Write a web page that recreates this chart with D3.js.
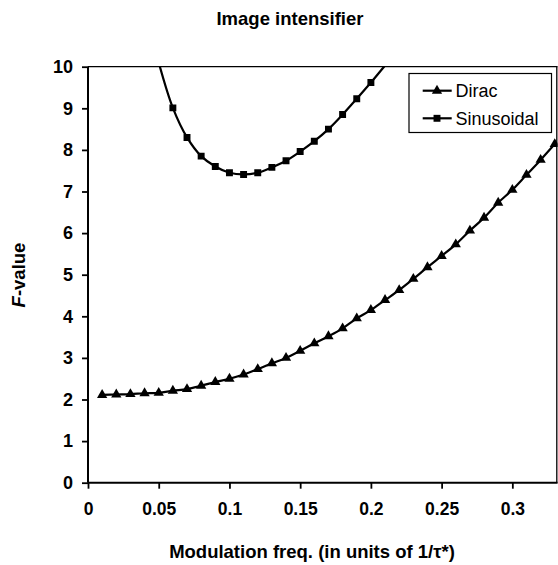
<!DOCTYPE html>
<html><head><meta charset="utf-8">
<script src="https://cdn.jsdelivr.net/npm/d3@7"></script>
<style>body{margin:0;background:#fff}svg{display:block}text{font-family:"Liberation Sans",Arial,sans-serif}</style>
</head><body><svg id="c" width="558" height="565"></svg>
<script>
const diracX = [0.01,0.02,0.03,0.04,0.05,0.06,0.07,0.08,0.09,0.10,0.11,0.12,0.13,0.14,0.15,0.16,0.17,0.18,0.19,0.20,0.21,0.22,0.23,0.24,0.25,0.26,0.27,0.28,0.29,0.30,0.31,0.32,0.33];
const diracY = [2.11,2.12,2.13,2.15,2.16,2.21,2.25,2.33,2.42,2.50,2.60,2.73,2.87,3.00,3.17,3.35,3.52,3.71,3.95,4.15,4.39,4.63,4.90,5.18,5.45,5.73,6.06,6.37,6.73,7.04,7.40,7.76,8.14];
const sinX = [0.05,0.06,0.07,0.08,0.09,0.10,0.11,0.12,0.13,0.14,0.15,0.16,0.17,0.18,0.19,0.20,0.21];
const sinY = [10.1,9.01,8.30,7.85,7.60,7.45,7.41,7.45,7.58,7.74,7.96,8.21,8.50,8.85,9.23,9.62,10.03];
const xTicks = [0,0.05,0.1,0.15,0.2,0.25,0.3];
const yTicks = [0,1,2,3,4,5,6,7,8,9,10];
const seriesNames = ["Dirac","Sinusoidal"];
const titleText = "Image intensifier";
const xLabel = "Modulation freq. (in units of 1/\u03C4*)";
const yLabelItalic = "F";
const yLabelRest = "-value";

const svg = d3.select("#c");
const x = d3.scaleLinear().domain([0,0.332]).range([88,557.6]);
const y = d3.scaleLinear().domain([0,10]).range([482.7,66.7]);

svg.append("clipPath").attr("id","clip").append("rect")
  .attr("x",x(0)).attr("y",y(10)).attr("width",x(0.332)-x(0)).attr("height",y(0)-y(10));

svg.append("line").attr("x1",x(0)).attr("x2",x(0.332)).attr("y1",y(10)).attr("y2",y(10)).attr("stroke","#000").attr("stroke-width",1.3);
svg.append("line").attr("x1",x(0.332)-0.8).attr("x2",x(0.332)-0.8).attr("y1",y(10)).attr("y2",y(0)).attr("stroke","#000").attr("stroke-width",1.3);

const xAxis = d3.axisBottom(x).tickValues(xTicks).tickSize(6).tickPadding(14).tickFormat(d=>d===0?"0":String(d));
const gx = svg.append("g").attr("transform",`translate(0,${y(0)})`).call(xAxis);
gx.select(".domain").attr("d",`M${x(0)},0H${x(0.332)}`).attr("stroke-width",2);
gx.selectAll(".tick line").attr("stroke-width",1.8);
gx.selectAll("text").attr("font-size",17.5).attr("font-weight","bold").attr("fill","#000").attr("font-family","Liberation Sans, Arial, sans-serif");

const yAxis = d3.axisLeft(y).tickValues(yTicks).tickSize(6).tickPadding(9);
const gy = svg.append("g").attr("transform",`translate(${x(0)},0)`).call(yAxis);
gy.select(".domain").attr("d",`M0,${y(0)}V${y(10)}`).attr("stroke-width",2);
gy.selectAll(".tick line").attr("stroke-width",1.8);
gy.selectAll("text").attr("font-size",18).attr("font-weight","bold").attr("fill","#000").attr("font-family","Liberation Sans, Arial, sans-serif");

const dirac = diracX.map((d,i)=>({x:d,y:diracY[i]}));
const sinus = sinX.map((d,i)=>({x:d,y:sinY[i]}));
const line = d3.line().x(d=>x(d.x)).y(d=>y(d.y)).curve(d3.curveCatmullRom.alpha(0.5));
const plot = svg.append("g").attr("clip-path","url(#clip)");
plot.append("path").attr("d",line(dirac)).attr("fill","none").attr("stroke","#000").attr("stroke-width",2.2);
plot.append("path").attr("d",line(sinus)).attr("fill","none").attr("stroke","#000").attr("stroke-width",2.2);

const tri = d3.symbol().type(d3.symbolTriangle).size(46);
const sq = d3.symbol().type(d3.symbolSquare).size(48);
plot.selectAll(".tri").data(dirac).join("path").attr("d",tri)
  .attr("transform",d=>`translate(${x(d.x)},${y(d.y)})`).attr("fill","#000");
plot.selectAll(".sq").data(sinus.filter(d=>d.y<=10)).join("path").attr("d",sq)
  .attr("transform",d=>`translate(${x(d.x)},${y(d.y)})`).attr("fill","#000");

const lg = svg.append("g");
lg.append("rect").attr("x",409).attr("y",73.5).attr("width",142.5).attr("height",59).attr("fill","#fff").attr("stroke","#000").attr("stroke-width",1.2);
const legY = [90.7,118.3];
const legSym = [tri, sq];
seriesNames.forEach((n,i)=>{
  lg.append("line").attr("x1",422.7).attr("x2",451.7).attr("y1",legY[i]).attr("y2",legY[i]).attr("stroke","#000").attr("stroke-width",2.2);
  lg.append("path").attr("d",legSym[i]).attr("transform",`translate(437,${legY[i]})`).attr("fill","#000");
  lg.append("text").attr("x",455.5).attr("y",legY[i]).attr("dy","0.36em").attr("font-size",18).text(n);
});

svg.append("text").attr("x",290).attr("y",25).attr("text-anchor","middle").attr("font-size",18.5).attr("font-weight","bold").text(titleText);
svg.append("text").attr("x",312).attr("y",558).attr("text-anchor","middle").attr("font-size",18.5).attr("font-weight","bold").text(xLabel);
const yl = svg.append("text").attr("transform","translate(25,275) rotate(-90)").attr("text-anchor","middle").attr("font-size",18.5).attr("font-weight","bold");
yl.append("tspan").attr("font-style","italic").text(yLabelItalic);
yl.append("tspan").text(yLabelRest);
</script>
</body></html>
